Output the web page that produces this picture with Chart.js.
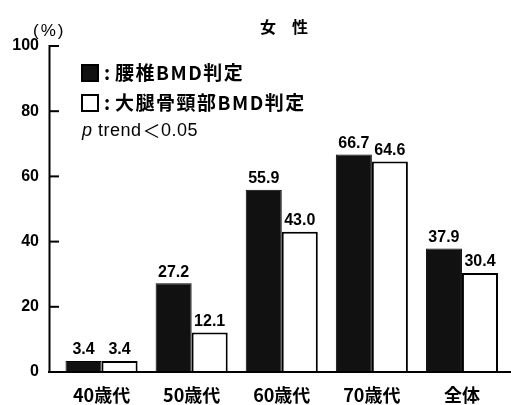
<!DOCTYPE html>
<html>
<head>
<meta charset="utf-8">
<script src="https://cdn.jsdelivr.net/npm/chart.js@4.4.1/dist/chart.umd.min.js"></script>
<style>
html,body{margin:0;padding:0;background:#fff;}
#wrap{width:511px;height:405px;position:relative;}
</style>
</head>
<body>
<div id="wrap"><canvas id="c"></canvas></div>
<script>
const categories = ['40歳代', '50歳代', '60歳代', '70歳代', '全体'];
const lumbarValues = [3.4, 27.2, 55.9, 66.7, 37.9];
const femoralValues = [3.4, 12.1, 43.0, 64.6, 30.4];
const seriesNames = ['腰椎BMD判定', '大腿骨頸部BMD判定'];
const chartTitle = '女　性';
const yUnit = '(%)';
const trendParts = [' trend', '＜', '0.05'];

const NUM_FONT = '"Liberation Sans", Arial, sans-serif';
const JP_FONT = '"Noto Sans CJK JP", "Liberation Sans", sans-serif';

const decor = {
  id: 'decor',
  afterDraw(chart) {
    const ctx = chart.ctx;
    const y = chart.scales.y;
    const y0 = y.getPixelForValue(0);
    const yTop = y.getPixelForValue(100);
    ctx.save();
    ctx.strokeStyle = '#000';
    ctx.lineWidth = 2;
    ctx.beginPath();
    ctx.moveTo(49.5, yTop - 1);
    ctx.lineTo(49.5, y0);
    ctx.stroke();
    ctx.beginPath();
    ctx.moveTo(48, y0);
    ctx.lineTo(511, y0);
    ctx.stroke();
    y.ticks.forEach(t => {
      const py = y.getPixelForValue(t.value);
      ctx.beginPath();
      ctx.moveTo(49, py);
      ctx.lineTo(59, py);
      ctx.stroke();
    });
    // value labels
    ctx.fillStyle = '#000';
    ctx.font = 'bold 16px ' + NUM_FONT;
    ctx.textAlign = 'center';
    ctx.textBaseline = 'bottom';
    chart.data.datasets.forEach((ds, di) => {
      const meta = chart.getDatasetMeta(di);
      meta.data.forEach((bar, i) => {
        ctx.fillText(ds.data[i].toFixed(1), bar.x, bar.y - 3);
      });
    });
    // title
    ctx.font = 'bold 16px ' + JP_FONT;
    ctx.textBaseline = 'middle';
    ctx.fillText(chartTitle, 284, 27);
    // unit
    ctx.font = '17px ' + NUM_FONT;
    ctx.textAlign = 'left';
    ctx.letterSpacing = '2px';
    ctx.fillText(yUnit, 33, 31);
    // legend
    const rows = [73, 103];
    const fills = ['#111', '#fff'];
    rows.forEach((ry, i) => {
      ctx.letterSpacing = '0px';
      ctx.fillStyle = fills[i];
      ctx.fillRect(82, ry - 8, 16, 16);
      ctx.strokeStyle = '#000';
      ctx.lineWidth = 2;
      ctx.strokeRect(82, ry - 8, 16, 16);
      ctx.fillStyle = '#000';
      ctx.font = 'bold 19px ' + JP_FONT;
      ctx.textAlign = 'left';
      ctx.fillText(':', 104, ry);
      ctx.letterSpacing = '1.5px';
      ctx.fillText(seriesNames[i], 115, ry);
    });
    ctx.letterSpacing = '0.5px';
    let px = 82;
    ctx.font = 'italic 18px ' + NUM_FONT;
    ctx.fillText('p', px, 131);
    px += ctx.measureText('p').width;
    ctx.font = '18px ' + NUM_FONT;
    ctx.fillText(trendParts[0], px, 131);
    px += ctx.measureText(trendParts[0]).width + 1;
    ctx.font = '18px ' + JP_FONT;
    ctx.fillText(trendParts[1], px, 131);
    px += ctx.measureText(trendParts[1]).width;
    ctx.font = '18px ' + NUM_FONT;
    ctx.fillText(trendParts[2], px, 131);
    ctx.restore();
  }
};

new Chart(document.getElementById('c'), {
  type: 'bar',
  data: {
    labels: categories,
    datasets: [
      { label: seriesNames[0], data: lumbarValues, backgroundColor: '#111', borderColor: '#000', borderWidth: 1 },
      { label: seriesNames[1], data: femoralValues, backgroundColor: '#fff', borderColor: '#000', borderWidth: 2 }
    ]
  },
  plugins: [decor],
  options: {
    responsive: true,
    maintainAspectRatio: false,
    animation: false,
    layout: { padding: { top: 46, right: 4, left: 0, bottom: 0 } },
    plugins: { legend: { display: false }, title: { display: false }, tooltip: { enabled: false } },
    datasets: { bar: { categoryPercentage: 0.8, barPercentage: 1.0 } },
    scales: {
      x: {
        grid: { display: false, drawTicks: false },
        border: { display: false },
        ticks: { color: '#000', padding: 12, font: { family: JP_FONT, size: 18, weight: 'bold' } },
        afterFit(s) { s.height = 33; }
      },
      y: {
        min: 0, max: 100,
        grid: { display: false, drawTicks: false },
        border: { display: false },
        ticks: { stepSize: 20, color: '#000', padding: 17.5, font: { family: NUM_FONT, size: 16, weight: 'bold' } },
        afterFit(s) { s.width = 56.5; }
      }
    }
  }
});
</script>
</body>
</html>
